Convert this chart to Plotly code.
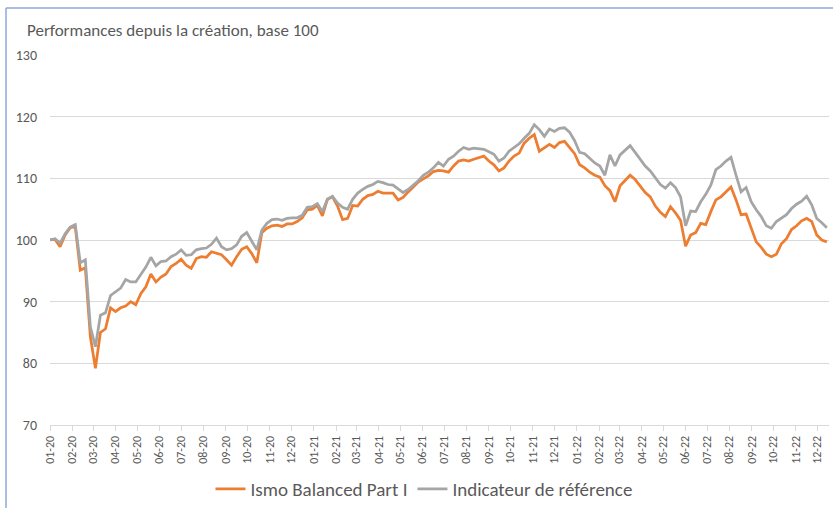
import pandas as pd
import plotly.graph_objects as go

# weekly observation dates (one every 7 days from 1 Jan 2020)
dates = pd.date_range("2020-01-01", periods=155, freq="7D")

ismo_balanced = [
    100.0, 100.1, 98.9, 100.8, 102.0, 102.2, 95.1, 95.5, 84.3, 79.2,
    85.0, 85.6, 89.0, 88.4, 89.0, 89.3, 90.0, 89.5, 91.3, 92.4,
    94.5, 93.2, 94.0, 94.5, 95.7, 96.2, 96.9, 95.9, 95.4, 97.0,
    97.3, 97.2, 98.1, 97.8, 97.6, 96.8, 95.9, 97.3, 98.5, 98.9,
    97.8, 96.3, 101.2, 101.9, 102.3, 102.4, 102.2, 102.6, 102.6, 103.0,
    103.6, 104.9, 105.0, 105.6, 103.9, 106.6, 107.0, 105.5, 103.3, 103.5,
    105.6, 105.5, 106.6, 107.2, 107.4, 107.9, 107.6, 107.6, 107.6, 106.5,
    106.9, 107.8, 108.6, 109.4, 109.9, 110.4, 111.1, 111.3, 111.2, 111.0,
    112.0, 112.8, 113.0, 112.8, 113.1, 113.4, 113.6, 112.8, 112.2, 111.2,
    111.7, 112.8, 113.6, 114.1, 115.7, 116.5, 117.1, 114.4, 114.9, 115.5,
    115.0, 115.8, 116.0, 115.0, 114.0, 112.2, 111.7, 111.0, 110.5, 110.2,
    108.8, 108.0, 106.2, 108.8, 109.6, 110.5, 109.8, 108.7, 107.7, 107.0,
    105.5, 104.5, 103.8, 105.4, 104.4, 103.2, 99.0, 100.8, 101.2, 102.7,
    102.5, 104.6, 106.5, 107.0, 107.8, 108.6, 106.5, 104.1, 104.2, 102.1,
    99.7, 98.8, 97.7, 97.3, 97.7, 99.4, 100.2, 101.7, 102.3, 103.1,
    103.5, 103.0, 100.8, 100.0, 99.7,
]

indicateur_reference = [
    100.0, 100.2, 99.5, 101.0, 102.1, 102.5, 96.3, 96.8, 85.9, 82.7,
    87.8, 88.2, 91.0, 91.6, 92.2, 93.6, 93.2, 93.2, 94.5, 95.6,
    97.2, 95.8, 96.5, 96.6, 97.3, 97.7, 98.4, 97.5, 97.6, 98.4,
    98.6, 98.7, 99.3, 100.3, 98.9, 98.4, 98.6, 99.2, 100.6, 101.2,
    99.8, 98.4, 101.6, 102.7, 103.3, 103.4, 103.2, 103.5, 103.6, 103.6,
    104.0, 105.3, 105.4, 105.9, 104.6, 106.6, 107.1, 106.0, 105.3, 105.0,
    106.6, 107.6, 108.2, 108.7, 109.0, 109.5, 109.3, 109.0, 108.9, 108.3,
    107.7, 108.2, 108.9, 109.6, 110.5, 111.0, 111.7, 112.6, 112.0, 113.1,
    113.6, 114.4, 115.0, 114.7, 114.9, 114.8, 114.7, 114.3, 113.9, 112.8,
    113.3, 114.4, 115.0, 115.6, 116.5, 117.3, 118.7, 117.9, 116.8, 118.0,
    117.6, 118.1, 118.2, 117.5, 116.1, 114.2, 114.0, 113.3, 112.5, 112.0,
    110.5, 113.8, 112.0, 113.8, 114.6, 115.3, 114.2, 113.0, 112.0, 111.2,
    110.0, 109.0, 108.4, 109.3, 108.5, 107.0, 102.3, 104.7, 104.6, 106.2,
    107.4, 108.9, 111.4, 112.0, 112.8, 113.4, 110.5, 107.8, 108.5, 106.2,
    104.9, 103.8, 102.3, 101.9, 103.0, 103.5, 104.1, 105.1, 105.8, 106.3,
    107.1, 105.7, 103.5, 102.8, 102.0,
]

series_names = ["Ismo Balanced Part I", "Indicateur de référence"]
title_text = "Performances depuis la création, base 100"

FONT = "Carlito, Calibri, Lato, sans-serif"
TXT = "#595959"
GRID = "#D9D9D9"

fig = go.Figure()
fig.add_trace(go.Scatter(x=dates, y=ismo_balanced, mode="lines", name=series_names[0],
                         line=dict(color="#ED7D31", width=2.75)))
fig.add_trace(go.Scatter(x=dates, y=indicateur_reference, mode="lines", name=series_names[1],
                         line=dict(color="#A5A5A5", width=2.75)))

# plot area: x 50..829 px, y 55..425 px
L, R, T, B = 50, 829, 55, 425
W, H = 833, 508

def px(xp):
    return (xp - L) / (R - L)

def py(yp):
    return (B - yp) / (B - T)

fig.update_layout(
    width=W, height=H,
    margin=dict(l=L, r=W - R, t=T, b=H - B, autoexpand=False),
    paper_bgcolor="white", plot_bgcolor="white",
    font=dict(family=FONT, color=TXT),
    title=dict(text=title_text, xref="container", yref="container",
               x=27 / W, xanchor="left", y=1 - 30 / H, yanchor="middle",
               font=dict(size=17, color=TXT, family=FONT)),
    showlegend=True,
    legend=dict(orientation="h", x=px(424) - 0.0, xanchor="center", y=py(489), yanchor="middle",
                font=dict(size=19, color=TXT, family=FONT), itemwidth=30,
                bgcolor="rgba(0,0,0,0)"),
    xaxis=dict(type="date", range=["2020-01-01", "2022-12-17"],
               tickformat="%m-%y", dtick="M1", tick0="2020-01-01",
               tickangle=-90, ticks="outside", ticklen=5, tickcolor=GRID,
               showline=True, linecolor=GRID, linewidth=1,
               showgrid=False, zeroline=False,
               tickfont=dict(size=12, color=TXT, family=FONT)),
    yaxis=dict(range=[70, 130], dtick=10, tick0=70,
               showgrid=True, gridcolor=GRID, gridwidth=1,
               zeroline=False, showline=False, ticks="",
               ticklabelstandoff=12,
               tickfont=dict(size=14, color=TXT, family=FONT)),
    shapes=[
        dict(type="line", xref="paper", yref="paper", x0=px(6), x1=px(6), y0=py(508), y1=py(8),
             line=dict(color="#8EA9DB", width=1.5)),
        dict(type="line", xref="paper", yref="paper", x0=px(6), x1=px(833), y0=py(8), y1=py(8),
             line=dict(color="#8EA9DB", width=1.5)),
    ],
)

fig.write_html("out.html", config={"displayModeBar": False},
               post_script="document.body.style.margin='0';document.body.style.overflow='hidden';")
